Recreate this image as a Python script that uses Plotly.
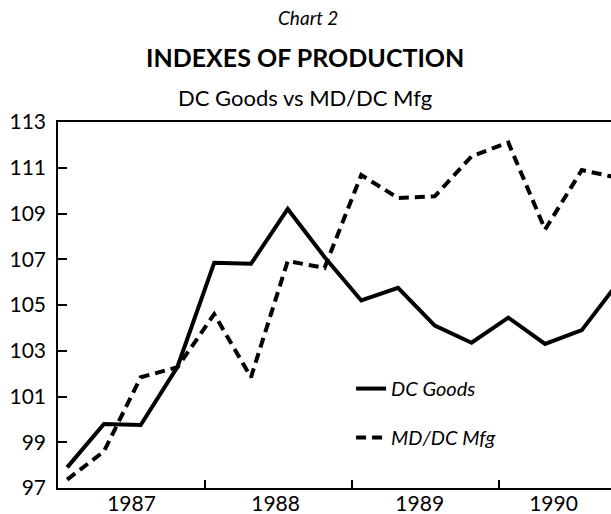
import plotly.graph_objects as go

# Quarterly observations, 1987Q1 .. 1990Q4
quarters = ["1987Q1", "1987Q2", "1987Q3", "1987Q4",
            "1988Q1", "1988Q2", "1988Q3", "1988Q4",
            "1989Q1", "1989Q2", "1989Q3", "1989Q4",
            "1990Q1", "1990Q2", "1990Q3", "1990Q4"]
dc_goods = [97.9, 99.8, 99.75, 102.3, 106.85, 106.8, 109.2, 107.1,
            105.2, 105.75, 104.1, 103.35, 104.45, 103.3, 103.9, 106.0]
md_dc_mfg = [97.37, 98.6, 101.84, 102.28, 104.6, 101.84, 106.92, 106.62,
             110.68, 109.68, 109.75, 111.5, 112.1, 108.3, 110.9, 110.55]

year_labels = ["1987", "1988", "1989", "1990"]
year_label_pos = [1987.5, 1988.48, 1989.46, 1990.37]
year_bounds = [1988, 1989, 1990]
y_ticks = [97, 99, 101, 103, 105, 107, 109, 111, 113]

def qx(q):
    yr = int(q[:4]); n = int(q[-1])
    return yr + (n - 1 + 0.25) / 4.0

x = [qx(q) for q in quarters]

FONT = "Lato"

fig = go.Figure()
fig.add_trace(go.Scatter(x=x, y=dc_goods, mode="lines", name="DC Goods",
                         legendgroup="a",
                         line=dict(color="black", width=4)))
fig.add_trace(go.Scatter(x=x, y=md_dc_mfg, mode="lines", name="MD/DC Mfg",
                         legendgroup="b",
                         line=dict(color="black", width=4, dash="10px,6px")))

fig.update_layout(
    width=611, height=514,
    margin=dict(l=58, r=0, t=122, b=26, autoexpand=False),
    paper_bgcolor="white", plot_bgcolor="white",
    font=dict(family=FONT, color="black", size=21),
    showlegend=True,
    legend=dict(x=0.53, y=0.325, xanchor="left", yanchor="top",
                bgcolor="rgba(0,0,0,0)", borderwidth=0,
                tracegroupgap=20,
                font=dict(family=FONT, size=20, style="italic")),
    xaxis=dict(range=[1987, 1990.761], showgrid=False, zeroline=False,
               showline=True, linecolor="black", linewidth=1.5, mirror=True,
               tickmode="array", tickvals=year_label_pos, ticktext=year_labels,
               ticks="inside", ticklen=0, automargin=False,
               ticklabelstandoff=-4,
               tickfont=dict(size=21),
               minor=dict(tickmode="array", tickvals=year_bounds,
                          ticks="inside", ticklen=8, tickwidth=1.5,
                          tickcolor="black", showgrid=False)),
    yaxis=dict(range=[97, 113], showgrid=False, zeroline=False,
               showline=True, linecolor="black", linewidth=1.5,
               tickmode="array", tickvals=y_ticks,
               ticks="inside", ticklen=9, tickwidth=1.5, tickcolor="black",
               ticklabelstandoff=6, automargin=False,
               tickfont=dict(size=21)),
)

fig.add_annotation(text="<i>Chart 2</i>", xref="paper", yref="paper",
                   x=(308 - 58) / 553, y=(488 - 18) / 366, showarrow=False,
                   font=dict(size=19, family=FONT), xanchor="center", yanchor="middle")
fig.add_annotation(text="<b>INDEXES OF PRODUCTION</b>", xref="paper", yref="paper",
                   x=(305 - 58) / 553, y=(488 - 57) / 366, showarrow=False,
                   font=dict(size=25, family=FONT), xanchor="center", yanchor="middle")
fig.add_annotation(text="DC Goods vs MD/DC Mfg", xref="paper", yref="paper",
                   x=(305 - 58) / 553, y=(488 - 98) / 366, showarrow=False,
                   font=dict(size=22, family=FONT), xanchor="center", yanchor="middle")

fig.write_html("out.html",
               config={"displayModeBar": False},
               post_script="document.body.style.margin='0px';"
                           "document.body.style.overflow='hidden';")
